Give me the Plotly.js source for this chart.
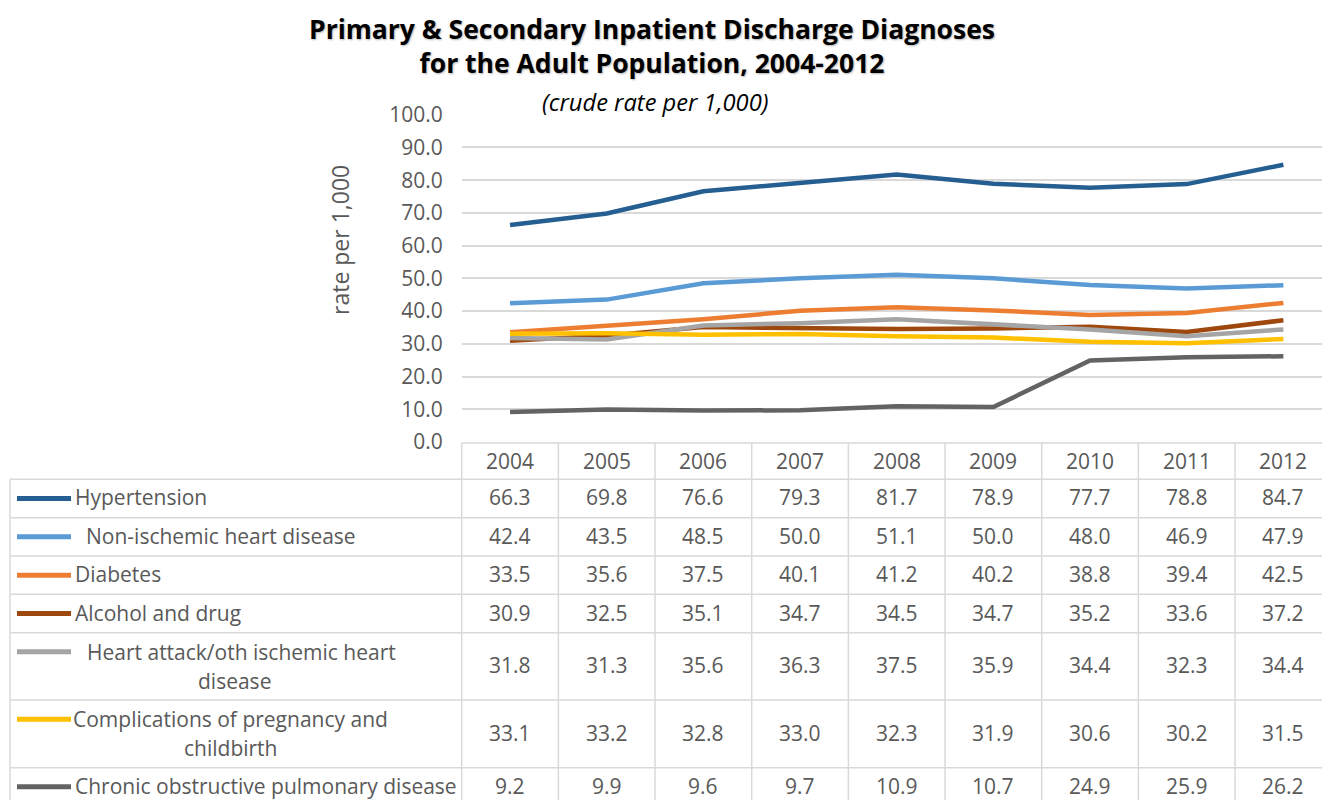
<!DOCTYPE html>
<html>
<head>
<meta charset="utf-8">
<script src="https://cdn.plot.ly/plotly-3.0.1.min.js"></script>
<style>html,body{margin:0;padding:0;background:#fff;}#chart{width:1322px;height:800px;}</style>
</head>
<body>
<div id="chart"></div>
<script>
// ---------- DATA ----------
const years = [2004, 2005, 2006, 2007, 2008, 2009, 2010, 2011, 2012];
const hypertension = [66.3, 69.8, 76.6, 79.3, 81.7, 78.9, 77.7, 78.8, 84.7];
const nonIschemic  = [42.4, 43.5, 48.5, 50.0, 51.1, 50.0, 48.0, 46.9, 47.9];
const diabetes     = [33.5, 35.6, 37.5, 40.1, 41.2, 40.2, 38.8, 39.4, 42.5];
const alcoholDrug  = [30.9, 32.5, 35.1, 34.7, 34.5, 34.7, 35.2, 33.6, 37.2];
const heartAttack  = [31.8, 31.3, 35.6, 36.3, 37.5, 35.9, 34.4, 32.3, 34.4];
const pregnancy    = [33.1, 33.2, 32.8, 33.0, 32.3, 31.9, 30.6, 30.2, 31.5];
const copd         = [9.2, 9.9, 9.6, 9.7, 10.9, 10.7, 24.9, 25.9, 26.2];
const seriesNames = [
  'Hypertension',
  'Non-ischemic heart disease',
  'Diabetes',
  'Alcohol and drug',
  'Heart attack/oth ischemic heart disease',
  'Complications of pregnancy and childbirth',
  'Chronic obstructive pulmonary disease'
];
const seriesValues = [hypertension, nonIschemic, diabetes, alcoholDrug, heartAttack, pregnancy, copd];
const yTicks = [0, 10, 20, 30, 40, 50, 60, 70, 80, 90, 100];
const titleLines = ['Primary &amp; Secondary Inpatient Discharge Diagnoses', 'for the Adult Population, 2004-2012'];
const subtitleText = '(crude rate per 1,000)';
const yTitleText = 'rate per 1,000';

// ---------- STYLE ----------
const W = 1322, H = 800;
const FONT = 'Open Sans, Liberation Sans, sans-serif';
const TXT = '#595959';
const GRID = '#d9d9d9';
const FS = 21;
const colors = ['#255e91', '#5b9bd5', '#ed7d31', '#9e480e', '#a5a5a5', '#ffc000', '#636363'];
// per-row label layout: indent (px) and number of words on first line when wrapped
const rowStyle = [
  {indent: 0}, {indent: 11}, {indent: 0}, {indent: 0},
  {indent: 11, wrapWords: 4, c1: 241, c2: 235}, {indent: 0, wrapWords: 4, c1: 231, c2: 231}, {indent: 0}
];
const rowEdges = [479.3, 517.7, 556, 594.3, 632.7, 700, 767.7, 806]; // px from top
const headerTop = 443, tableLeft = 10, plotLeft = 461.7, colW = 96.67;
const px = v => v / W;
const py = v => 1 - v / H;

// ---------- TRACES ----------
const traces = seriesNames.map((name, i) => ({
  type: 'scatter', mode: 'lines', name: name,
  x: years, y: seriesValues[i],
  line: {color: colors[i], width: 4.5},
  hoverinfo: 'x+y+name'
}));

// ---------- TABLE (shapes + annotations) ----------
const shapes = [];
const annotations = [];
const lineStyle = {color: GRID, width: 1.5};
const tf = {family: FONT, size: FS, color: TXT};
// header top
shapes.push({type: 'line', xref: 'paper', yref: 'paper', x0: px(plotLeft), x1: 1, y0: py(headerTop), y1: py(headerTop), line: lineStyle});
// row separators
rowEdges.forEach(e => shapes.push({type: 'line', xref: 'paper', yref: 'paper', x0: px(tableLeft), x1: 1, y0: py(e), y1: py(e), line: lineStyle}));
// left border and first column border
shapes.push({type: 'line', xref: 'paper', yref: 'paper', x0: px(tableLeft), x1: px(tableLeft), y0: py(rowEdges[0]), y1: 0, line: lineStyle});
shapes.push({type: 'line', xref: 'paper', yref: 'paper', x0: px(plotLeft), x1: px(plotLeft), y0: py(headerTop), y1: 0, line: lineStyle});
// column separators between years (placed on the x axis scale)
years.slice(0, -1).forEach(yr => shapes.push({type: 'line', xref: 'x', yref: 'paper', x0: yr + 0.5, x1: yr + 0.5, y0: py(headerTop), y1: 0, line: lineStyle}));

// header years
years.forEach(yr => annotations.push({
  xref: 'x', yref: 'paper', x: yr, y: py((headerTop + rowEdges[0]) / 2),
  text: String(yr), showarrow: false, xanchor: 'center', yanchor: 'middle', font: tf
}));

seriesNames.forEach((name, i) => {
  const top = rowEdges[i], bot = rowEdges[i + 1];
  const mid = (top + bot) / 2;
  const st = rowStyle[i];
  let keyY = mid;
  if (st.wrapWords) {
    const words = name.split(' ');
    const l1 = words.slice(0, st.wrapWords).join(' ');
    const l2 = words.slice(st.wrapWords).join(' ');
    keyY = mid - 14.5;
    annotations.push({xref: 'paper', yref: 'paper', x: px(st.c1), y: py(mid - 14.5), text: l1, showarrow: false,
      xanchor: 'center', yanchor: 'middle', font: tf});
    annotations.push({xref: 'paper', yref: 'paper', x: px(st.c2), y: py(mid + 14.5), text: l2, showarrow: false,
      xanchor: 'center', yanchor: 'middle', font: tf});
  } else {
    annotations.push({xref: 'paper', yref: 'paper', x: px(73 + st.indent), y: py(mid - 1), text: name, showarrow: false,
      xanchor: 'left', yanchor: 'middle', font: tf});
  }
  // legend key
  shapes.push({type: 'line', xref: 'paper', yref: 'paper', x0: px(17), x1: px(71), y0: py(keyY), y1: py(keyY),
    line: {color: colors[i], width: 5}});
  // values
  seriesValues[i].forEach((v, j) => annotations.push({
    xref: 'x', yref: 'paper', x: years[j], y: py(mid - 1), text: v.toFixed(1), showarrow: false,
    xanchor: 'center', yanchor: 'middle', font: tf
  }));
});

// subtitle
annotations.push({xref: 'paper', yref: 'paper', x: px(655), y: py(102), text: subtitleText, showarrow: false,
  xanchor: 'center', yanchor: 'middle', font: {family: FONT, size: 23.7, color: '#000', style: 'italic'}});
// y axis title (offset from axis centre as in the reference)
annotations.push({xref: 'paper', yref: 'paper', x: px(340), y: py(240), text: yTitleText, showarrow: false,
  textangle: -90, xanchor: 'center', yanchor: 'middle', font: {family: FONT, size: 23, color: TXT}});

const layout = {
  width: W, height: H,
  margin: {l: 0, r: 0, t: 0, b: 0},
  paper_bgcolor: '#fff', plot_bgcolor: '#fff',
  showlegend: false,
  font: {family: FONT, color: TXT},
  title: {
    text: titleLines.join('<br>'),
    x: px(652), xanchor: 'center', xref: 'paper',
    y: 1 - 39 / H, yanchor: 'top', yref: 'container',
    font: {family: FONT, size: 26.5, weight: 'bold', color: '#000', shadow: '1px 1px 2px rgba(0,0,0,0.3)'}
  },
  xaxis: {
    domain: [px(plotLeft), 1],
    range: [years[0] - 0.5, years[0] - 0.5 + (W - plotLeft) / colW],
    showticklabels: false, showgrid: false, zeroline: false, showline: false, fixedrange: true
  },
  yaxis: {
    domain: [py(442), py(114.7)],
    range: [0, 100],
    tickvals: yTicks, tickformat: '.1f',
    showgrid: true, gridcolor: GRID, gridwidth: 1.5,
    zeroline: false, showline: false, ticks: '',
    ticklabelstandoff: 18,
    tickfont: {family: FONT, size: FS, color: TXT},
    fixedrange: true
  },
  shapes: shapes,
  annotations: annotations
};

Plotly.newPlot('chart', traces, layout, {displayModeBar: false, responsive: false});
</script>
</body>
</html>
